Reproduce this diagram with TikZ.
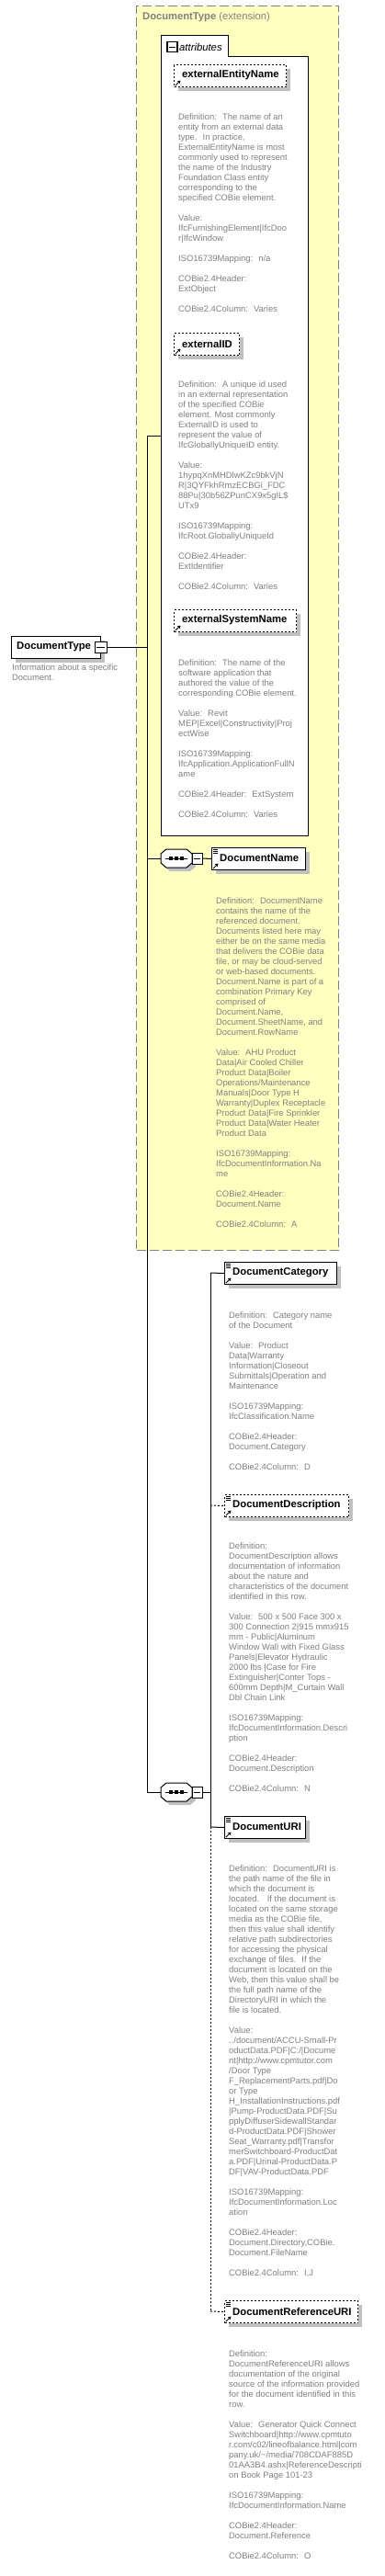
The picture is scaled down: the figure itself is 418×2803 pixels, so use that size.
\documentclass[tikz,border=0pt]{standalone}
\usepackage{fontspec}
\setmainfont{Liberation Sans}
\usetikzlibrary{shadows,arrows.meta}
\definecolor{extyellow}{RGB}{255,255,192}
\definecolor{txtgray}{RGB}{128,128,128}
\definecolor{shadowgray}{RGB}{192,192,192}
\tikzset{
  desc/.style={anchor=north west, align=left, inner sep=0pt, text=txtgray, font=\fontsize{9.4}{11}\selectfont,
    execute at begin node={\rule{0pt}{8pt}}},
  elabel/.style={anchor=west, inner sep=0pt, font=\fontsize{11.3}{13}\selectfont\bfseries},
  ebox/.style={draw=black, line width=1pt, fill=white, anchor=north west, inner sep=0pt,
    drop shadow={shadow xshift=4pt, shadow yshift=-4pt, fill=shadowgray, opacity=1}},
  optbox/.style={ebox, dash pattern=on 2pt off 2pt},
  extbox/.style={draw=txtgray, fill=extyellow, line width=1pt, dash pattern=on 10pt off 4pt, anchor=north west, inner sep=0pt},
  minusbox/.style={draw=black, line width=1pt, fill=white, inner sep=0pt, minimum width=11pt, minimum height=12pt,
    path picture={\draw[line width=1pt] ([xshift=2pt]path picture bounding box.west) -- ([xshift=-2pt]path picture bounding box.east);}},
  conn/.style={line width=1pt, draw=black},
  optconn/.style={conn, dash pattern=on 2pt off 2pt},
  seqnode/.style={inner sep=0pt, minimum width=34pt, minimum height=20pt},
}
\newcommand\refarrow[1]{\draw[line width=0.9pt,-{Triangle[length=3pt,width=3.5pt]}] ([shift={(2pt,2pt)}]#1.south west) -- ([shift={(7.5pt,7.5pt)}]#1.south west);}
\newcommand\lineicon[1]{\foreach \k in {2,4,6} {\draw[line width=0.7pt] ([shift={(2pt,-\k pt)}]#1.north west) -- ++(5pt,0);}}
\newcommand\octshape[2]{(#1-11,#2-10) -- (#1+11,#2-10) -- (#1+17,#2-5) -- (#1+17,#2+5) -- (#1+11,#2+10) -- (#1-11,#2+10) -- (#1-17,#2+5) -- (#1-17,#2-5) -- cycle}
\newcommand\seqsym[3]{%
  \node[seqnode] (#1) at (#2,#3) {};
  \begin{scope}[shift={(4,4)}]\fill[shadowgray] \octshape{#2}{#3};\end{scope}
  \draw[line width=1pt, fill=white] \octshape{#2}{#3};
  \draw[line width=1pt] (#2-12,#3) -- (#2+12,#3);
  \foreach \dx in {-6,0,6} {\fill (#2+\dx-1.7,#3-1.7) rectangle (#2+\dx+1.7,#3+1.7);}
}
\begin{document}
\begin{tikzpicture}[x=1pt,y=-1pt]
\useasboundingbox (0,0) rectangle (418,2803);
\fill[white] (0,0) rectangle (418,2803);

% extension area
\node[extbox, minimum width=220pt, minimum height=1354pt] (ext) at (148,6) {};
\node[anchor=west, inner sep=0pt, text=txtgray, font=\fontsize{11.2}{13}\selectfont] (exttitle) at (155,19) {\textbf{DocumentType} (extension)};

% attributes container
\draw[line width=1pt, fill=white] (175,38) -- (248,38) -- (248,61) -- (335,61) -- (335,909) -- (175,909) -- cycle;
\coordinate (attrw) at (175,474);
\node[minusbox, line width=1.6pt, minimum width=11pt, minimum height=11pt] (attrm) at (187.5,51) {};
\node[anchor=west, inner sep=0pt, font=\fontsize{11.3}{13}\selectfont\itshape] (attrl) at (195,51) {attributes};

% attribute 1
\node[optbox, minimum width=122pt, minimum height=24pt] (a1) at (189,70) {};
\node[elabel] (a1l) at (198,82) {externalEntityName};
\refarrow{a1}
\node[desc] (a1d) at (194,123.5) {Definition:~ The name of an\\
entity from an external data\\
type.~ In practice,\\
ExternalEntityName is most\\
commonly used to represent\\
the name of the Industry\\
Foundation Class entity\\
corresponding to the\\
specified COBie element.\\[11pt]
Value:\\
IfcFurnishingElement|IfcDoo\\
r|IfcWindow\\[11pt]
ISO16739Mapping:~ n/a\\[11pt]
COBie2.4Header:\\
ExtObject\\[11pt]
COBie2.4Column:~ Varies};

% attribute 2
\node[optbox, minimum width=71pt, minimum height=24pt] (a2) at (189,362) {};
\node[elabel] (a2l) at (198,374) {externalID};
\refarrow{a2}
\node[desc] (a2d) at (194,414.5) {Definition:~ A unique id used\\
in an external representation\\
of the specified COBie\\
element. Most commonly\\
ExternalID is used to\\
represent the value of\\
IfcGloballyUniqueID entity.\\[11pt]
Value:\\
1hypqXnMHDlwKZc9bkVjN\\
R|3QYFkhRmzECBGi\_FDC\\
88Pu|30b56ZPunCX9x5gIL\$\\
UTx9\\[11pt]
ISO16739Mapping:\\
IfcRoot.GloballyUniqueId\\[11pt]
COBie2.4Header:\\
ExtIdentifier\\[11pt]
COBie2.4Column:~ Varies};

% attribute 3
\node[optbox, minimum width=133pt, minimum height=24pt] (a3) at (189,663) {};
\node[elabel] (a3l) at (198,675) {externalSystemName};
\refarrow{a3}
\node[desc] (a3d) at (194,717.5) {Definition:~ The name of the\\
software application that\\
authored the value of the\\
corresponding COBie element.\\[11pt]
Value:~ Revit\\
MEP|Excel|Constructivity|Proj\\
ectWise\\[11pt]
ISO16739Mapping:\\
IfcApplication.ApplicationFullN\\
ame\\[11pt]
COBie2.4Header:~ ExtSystem\\[11pt]
COBie2.4Column:~ Varies};

% DocumentType root
\node[ebox, minimum width=97pt, minimum height=24pt] (dt) at (12,692) {};
\node[elabel] (dtl) at (18,704) {DocumentType};
\node[minusbox, minimum width=13pt] (dtm) at (109.5,704) {};
\node[desc] (dtd) at (13,722.5) {Information about a specific\\Document.};

% main connectors
\coordinate (j0) at (160,704);
\coordinate (jtop) at (160,474);
\coordinate (jmid) at (160,934);
\coordinate (jbot) at (160,1950);
\draw[conn] (dtm.east) -- (j0);

% sequence 1
\seqsym{s1}{192}{934}
\node[minusbox] (s1m) at (214.5,934) {};
\node[ebox, minimum width=102pt, minimum height=24pt] (dn) at (230,922) {};
\node[elabel] (dnl) at (239,934) {DocumentName};
\lineicon{dn}
\refarrow{dn}
\draw[conn] (s1m.east) -- (dn.west);
\node[desc] (dnd) at (235,976.5) {Definition:~ DocumentName\\
contains the name of the\\
referenced document.\\
Documents listed here may\\
either be on the same media\\
that delivers the COBie data\\
file, or may be cloud-served\\
or web-based documents.\\
Document.Name is part of a\\
combination Primary Key\\
comprised of\\
Document.Name,\\
Document.SheetName, and\\
Document.RowName\\[11pt]
Value:~ AHU Product\\
Data|Air Cooled Chiller\\
Product Data|Boiler\\
Operations/Maintenance\\
Manuals|Door Type H\\
Warranty|Duplex Receptacle\\
Product Data|Fire Sprinkler\\
Product Data|Water Heater\\
Product Data\\[11pt]
ISO16739Mapping:\\
IfcDocumentInformation.Na\\
me\\[11pt]
COBie2.4Header:\\
Document.Name\\[11pt]
COBie2.4Column:~ A};

\draw[conn] (attrw) -- (jtop) -- (jbot);
\draw[conn] (jmid) -- (s1.west);

% sequence 2
\seqsym{s2}{192}{1950}
\node[minusbox] (s2m) at (214.5,1950) {};
\draw[conn] (jbot) -- (s2.west);
\coordinate (k0) at (229,1950);
\coordinate (kc) at (229,1385);
\coordinate (kd) at (229,1638);
\coordinate (ku) at (229,1988);
\coordinate (kr) at (229,2515);
\draw[conn] (s2m.east) -- (k0);
\draw[conn] (kc) -- (ku);
\draw[optconn] (ku) -- (kr);

% DocumentCategory
\node[ebox, minimum width=122pt, minimum height=24pt] (dc) at (244,1373) {};
\node[elabel] (dcl) at (253,1385) {DocumentCategory};
\lineicon{dc}
\refarrow{dc}
\draw[conn] (kc) -- (dc.west);
\node[desc] (dcd) at (249,1427.5) {Definition:~ Category name\\
of the Document\\[11pt]
Value:~ Product\\
Data|Warranty\\
Information|Closeout\\
Submittals|Operation and\\
Maintenance\\[11pt]
ISO16739Mapping:\\
IfcClassification.Name\\[11pt]
COBie2.4Header:\\
Document.Category\\[11pt]
COBie2.4Column:~ D};

% DocumentDescription
\node[optbox, minimum width=135pt, minimum height=24pt] (dd) at (244,1626) {};
\node[elabel] (ddl) at (253,1638) {DocumentDescription};
\lineicon{dd}
\refarrow{dd}
\draw[optconn] (kd) -- (dd.west);
\node[desc] (ddd) at (249,1678.5) {Definition:\\
DocumentDescription allows\\
documentation of information\\
about the nature and\\
characteristics of the document\\
identified in this row.\\[11pt]
Value:~ 500 x 500 Face 300 x\\
300 Connection 2|915 mmx915\\
mm - Public|Aluminum\\
Window Wall with Fixed Glass\\
Panels|Elevator Hydraulic\\
2000 lbs |Case for Fire\\
Extinguisher|Conter Tops -\\
600mm Depth|M\_Curtain Wall\\
Dbl Chain Link\\[11pt]
ISO16739Mapping:\\
IfcDocumentInformation.Descri\\
ption\\[11pt]
COBie2.4Header:\\
Document.Description\\[11pt]
COBie2.4Column:~ N};

% DocumentURI
\node[ebox, minimum width=88pt, minimum height=24pt] (du) at (244,1976) {};
\node[elabel] (dul) at (253,1988) {DocumentURI};
\lineicon{du}
\refarrow{du}
\draw[conn] (ku) -- (du.west);
\node[desc] (dud) at (249,2029.5) {Definition:~ DocumentURI is\\
the path name of the file in\\
which the document is\\
located.~~ If the document is\\
located on the same storage\\
media as the COBie file,\\
then this value shall identify\\
relative path subdirectories\\
for accessing the physical\\
exchange of files.~ If the\\
document is located on the\\
Web, then this value shall be\\
the full path name of the\\
DirectoryURI in which the\\
file is located.\\[11pt]
Value:\\
../document/ACCU-Small-Pr\\
oductData.PDF|C:/|Docume\\
nt|http://www.cpmtutor.com\\
/Door Type\\
F\_ReplacementParts.pdf|Do\\
or Type\\
H\_InstallationInstructions.pdf\\
|Pump-ProductData.PDF|Su\\
pplyDiffuserSidewallStandar\\
d-ProductData.PDF|Shower\\
Seat\_Warranty.pdf|Transfor\\
merSwitchboard-ProductDat\\
a.PDF|Urinal-ProductData.P\\
DF|VAV-ProductData.PDF\\[11pt]
ISO16739Mapping:\\
IfcDocumentInformation.Loc\\
ation\\[11pt]
COBie2.4Header:\\
Document.Directory,COBie.\\
Document.FileName\\[11pt]
COBie2.4Column:~ I,J};

% DocumentReferenceURI
\node[optbox, minimum width=145pt, minimum height=24pt] (dr) at (244,2503) {};
\node[elabel] (drl) at (253,2515) {DocumentReferenceURI};
\lineicon{dr}
\refarrow{dr}
\draw[optconn] (kr) -- (dr.west);
\node[desc] (drd) at (249,2557.5) {Definition:\\
DocumentReferenceURI allows\\
documentation of the original\\
source of the information provided\\
for the document identified in this\\
row.\\[11pt]
Value:~ Generator Quick Connect\\
Switchboard|http://www.cpmtuto\\
r.com/c02/lineofbalance.html|com\\
pany.uk/\textasciitilde/media/708CDAF885D\\
01AA3B4.ashx|ReferenceDescripti\\
on Book Page 101-23\\[11pt]
ISO16739Mapping:\\
IfcDocumentInformation.Name\\[11pt]
COBie2.4Header:\\
Document.Reference\\[11pt]
COBie2.4Column:~ O};
\end{tikzpicture}
\end{document}
